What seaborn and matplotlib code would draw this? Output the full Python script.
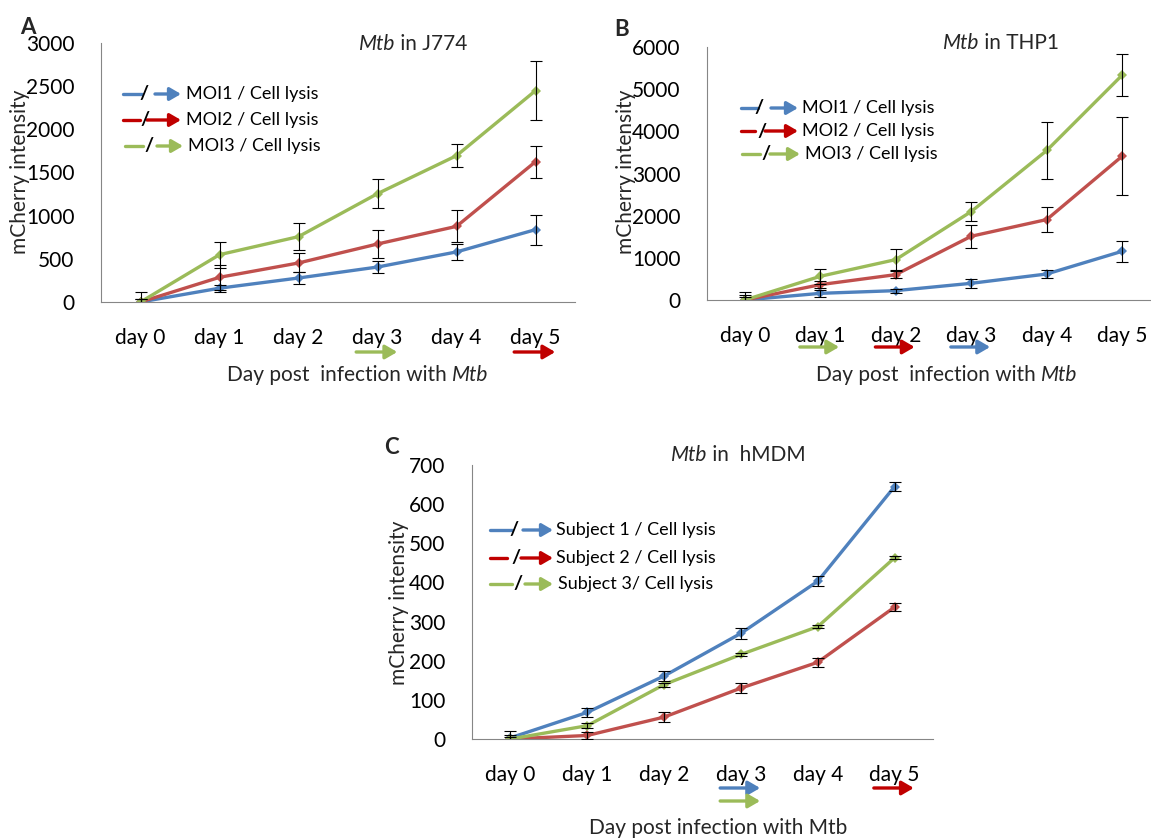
import numpy as np
import pandas as pd
import matplotlib
matplotlib.use("Agg")
import matplotlib.pyplot as plt
import seaborn as sns

# ---------------- data ----------------
days = ["day 0", "day 1", "day 2", "day 3", "day 4", "day 5"]

# Panel A: Mtb in J774
j774_moi1 = [0, 160, 278, 405, 580, 838]
j774_moi1_err = [30, 40, 70, 65, 95, 175]
j774_moi2 = [0, 286, 452, 672, 876, 1625]
j774_moi2_err = [40, 145, 110, 160, 185, 185]
j774_moi3 = [0, 548, 757, 1255, 1695, 2448]
j774_moi3_err = [115, 150, 155, 170, 130, 345]

# Panel B: Mtb in THP1
thp1_moi1 = [0, 158, 222, 396, 617, 1156]
thp1_moi1_err = [60, 80, 50, 100, 105, 250]
thp1_moi2 = [0, 364, 602, 1512, 1908, 3412]
thp1_moi2_err = [120, 80, 80, 270, 300, 930]
thp1_moi3 = [0, 562, 958, 2098, 3546, 5335]
thp1_moi3_err = [190, 180, 250, 230, 680, 490]

# Panel C: Mtb in hMDM
hmdm_s1 = [3, 68, 161, 270, 403, 645]
hmdm_s1_err = [18, 12, 12, 14, 13, 11]
hmdm_s2 = [0, 9, 56, 130, 196, 337]
hmdm_s2_err = [10, 8, 12, 13, 11, 10]
hmdm_s3 = [0, 34, 139, 216, 287, 463]
hmdm_s3_err = [5, 6, 5, 4, 4, 4]

moi_labels = ["MOI1 / Cell lysis", "MOI2 / Cell lysis", "MOI3 / Cell lysis"]
subject_labels = ["Subject 1 / Cell lysis", "Subject 2 / Cell lysis", "Subject 3/ Cell lysis"]

line_colors = ["#4F81BD", "#C0504D", "#9BBB59"]
arrow_colors = ["#4F81BD", "#C00000", "#9BBB59"]

# lysis-day arrows under the x axis: (day index, colour index, row)
j774_lysis = [(3, 2, 0), (5, 1, 0)]
thp1_lysis = [(1, 2, 0), (2, 1, 0), (3, 0, 0)]
hmdm_lysis = [(3, 0, 0), (3, 2, 1), (5, 1, 0)]

# ---------------- style ----------------
sns.set_style("white")
plt.rcParams["font.family"] = ["Lato", "DejaVu Sans"]
plt.rcParams["axes.edgecolor"] = "#868686"

W, H = 1151, 839
fig = plt.figure(figsize=(W / 100, H / 100), dpi=100)
ARROW = "-|>,head_length=0.55,head_width=0.32"


def px_axes(left, top, right, bottom):
    return fig.add_axes([left / W, (H - bottom) / H, (right - left) / W, (bottom - top) / H])


def draw_panel(ax, series, errs, labels, ymax, ystep):
    rows = []
    for lab, vals in zip(labels, series):
        for i, v in enumerate(vals):
            rows.append({"day": i, "value": v, "series": lab})
    df = pd.DataFrame(rows)
    sns.lineplot(data=df, x="day", y="value", hue="series", palette=line_colors,
                 marker="D", markersize=5, markeredgewidth=0, linewidth=2.4,
                 legend=False, ax=ax, zorder=2)
    for vals, err in zip(series, errs):
        ax.errorbar(range(len(days)), vals, yerr=err, fmt="none", ecolor="black",
                    elinewidth=0.8, capsize=4, capthick=0.8, zorder=3)
    ax.set_xlim(-0.5, len(days) - 0.5)
    ax.set_ylim(0, ymax)
    ax.set_yticks(np.arange(0, ymax + 1, ystep))
    ax.set_xticks(range(len(days)))
    ax.set_xticklabels(days)
    ax.set_xlabel("")
    ax.set_ylabel("")
    ax.tick_params(axis="both", which="both", direction="out", length=7, width=0.8,
                   color="#868686", labelsize=15, labelcolor="black")
    ax.tick_params(axis="x", pad=12)
    ax.tick_params(axis="y", pad=12)
    for s in ["top", "right"]:
        ax.spines[s].set_visible(False)
    for s in ["left", "bottom"]:
        ax.spines[s].set_linewidth(0.8)
    ax.patch.set_alpha(0)


def lysis_arrows(ax, items, y_rows):
    for day, ci, row in items:
        y = H - y_rows[row]
        ax.annotate("", xy=(day + 0.25, y), xytext=(day - 0.27, y),
                    xycoords=("data", "figure pixels"), textcoords=("data", "figure pixels"),
                    arrowprops=dict(arrowstyle=ARROW, mutation_scale=13,
                                    color=arrow_colors[ci], lw=2.4, shrinkA=0, shrinkB=0),
                    annotation_clip=False)


def key(labels, rows):
    # rows: (y, line_x0, line_x1, slash_x, arrow_x0, arrow_x1, text_x)
    for i, (lab, r) in enumerate(zip(labels, rows)):
        y, lx0, lx1, sx, ax0, ax1, tx = r
        yy = H - y
        fig.add_artist(plt.Line2D([lx0 / W, lx1 / W], [yy / H, yy / H],
                                  color=arrow_colors[i], lw=2.4, transform=fig.transFigure))
        fig.text(sx / W, yy / H, "/", ha="center", va="center", fontsize=14,
                 fontweight="bold", color="black")
        fig.add_artist(matplotlib.patches.FancyArrowPatch(
            (ax0, yy), (ax1, yy), transform=None, arrowstyle=ARROW,
            mutation_scale=12, color=arrow_colors[i], lw=2.4, shrinkA=0, shrinkB=0))
        fig.text(tx / W, yy / H, lab, ha="left", va="center", fontsize=13, color="black")


def mixed_text(cx, y, parts, size=15):
    """Centre a run of (text, italic) pieces at pixel position (cx, y)."""
    texts = [fig.text(0, 0, s, fontsize=size, style="italic" if it else "normal")
             for s, it in parts]
    fig.canvas.draw()
    r = fig.canvas.get_renderer()
    widths = [t.get_window_extent(r).width for t in texts]
    x = cx - sum(widths) / 2
    for t, w in zip(texts, widths):
        t.set_position((x / W, (H - y) / H))
        t.set_va("center")
        t.set_ha("left")
        x += w


def ylabel(x, y):
    fig.text(x / W, (H - y) / H, "mCherry intensity", rotation=90, ha="center",
             va="center", fontsize=15)


def letter(x, y, s):
    fig.text(x / W, (H - y) / H, s, fontsize=16, fontweight="bold", ha="center", va="center")


# ---------------- panel A ----------------
axA = px_axes(101, 43, 575, 302)
draw_panel(axA, [j774_moi1, j774_moi2, j774_moi3],
           [j774_moi1_err, j774_moi2_err, j774_moi3_err], moi_labels, 3000, 500)
lysis_arrows(axA, j774_lysis, [352, 365])
mixed_text(413, 44, [("Mtb", True), (" in J774", False)])
mixed_text(358, 375, [("Day post  infection with ", False), ("Mtb", True)])
key(moi_labels, [(94, 123, 142, 144, 155, 181, 186),
                 (120, 123, 140, 145, 147, 181, 186),
                 (146, 125, 143, 149, 157, 183, 188)])
ylabel(20, 172)
letter(28, 27, "A")

# ---------------- panel B ----------------
axB = px_axes(707, 47, 1160, 300)
draw_panel(axB, [thp1_moi1, thp1_moi2, thp1_moi3],
           [thp1_moi1_err, thp1_moi2_err, thp1_moi3_err], moi_labels, 6000, 1000)
lysis_arrows(axB, thp1_lysis, [347, 360])
mixed_text(1001, 43, [("Mtb", True), (" in THP1", False)])
mixed_text(947, 375, [("Day post  infection with ", False), ("Mtb", True)])
key(moi_labels, [(108, 741, 758, 759, 771, 798, 802),
                 (131, 741, 755, 762, 765, 798, 802),
                 (154, 742, 760, 766, 770, 800, 805)])
ylabel(626, 172)
letter(622, 29, "B")

# ---------------- panel C ----------------
axC = px_axes(472, 465, 933, 739)
draw_panel(axC, [hmdm_s1, hmdm_s2, hmdm_s3],
           [hmdm_s1_err, hmdm_s2_err, hmdm_s3_err], subject_labels, 700, 100)
lysis_arrows(axC, hmdm_lysis, [788, 801])
mixed_text(738, 455, [("Mtb", True), (" in  hMDM", False)])
mixed_text(718, 828, [("Day post infection with Mtb", False)])
key(subject_labels, [(530, 490, 512, 514, 523, 553, 556),
                     (558, 490, 507, 516, 521, 553, 556),
                     (584, 490, 512, 518, 525, 553, 558)])
ylabel(399, 603)
letter(391, 447, "C")

fig.savefig("out.png", dpi=100)
